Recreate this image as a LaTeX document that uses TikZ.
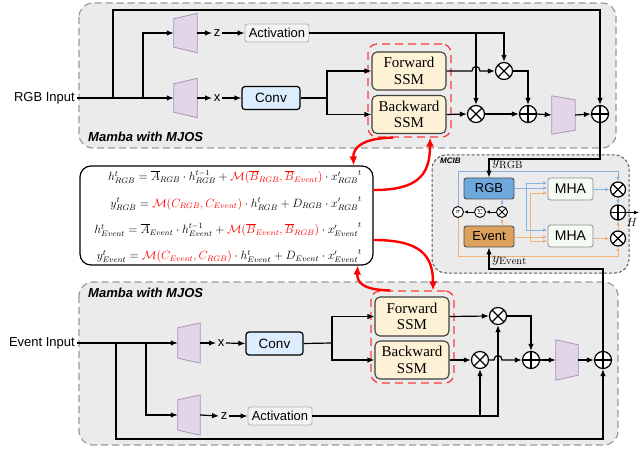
\documentclass[tikz,border=0pt]{standalone}
\usepackage{fontspec}
\setsansfont{Liberation Sans}
\newfontfamily\serifT{Liberation Serif}
\usetikzlibrary{arrows.meta,calc}
\definecolor{panelgray}{HTML}{EBEBEB}
\definecolor{panelborder}{HTML}{9A9A9A}
\definecolor{trapfill}{HTML}{E2D5E7}
\definecolor{trapdraw}{HTML}{A994B8}
\definecolor{ssmfill}{HTML}{FDF1D6}
\definecolor{convfill}{HTML}{DCEEFD}
\definecolor{actfill}{HTML}{F3F3F3}
\definecolor{actdraw}{HTML}{B5B5B5}
\definecolor{rgbfill}{HTML}{6FA8DC}
\definecolor{evfill}{HTML}{DCA15C}
\definecolor{mhafill}{HTML}{F5FAF2}
\definecolor{lblue}{HTML}{86B4E3}
\definecolor{lorange}{HTML}{EFB47A}
\definecolor{redd}{HTML}{FF3B3B}
\newcommand\redm[1]{\textcolor{red}{#1}}
\begin{document}
\begin{tikzpicture}[x=1pt,y=-1pt,
  lw/.style={line width=1.2pt},
  ln/.style={lw},
  arr/.style={lw,-{Latex[length=7pt,width=5.5pt]}},
  op/.style={circle,draw,lw,fill=white,minimum size=17pt,inner sep=0pt},
  otimes/.style={op,path picture={\draw[lw] (path picture bounding box.north west)--(path picture bounding box.south east) (path picture bounding box.north east)--(path picture bounding box.south west);}},
  oplus/.style={op,path picture={\draw[lw] (path picture bounding box.north)--(path picture bounding box.south) (path picture bounding box.east)--(path picture bounding box.west);}},
  mop/.style={circle,draw,line width=0.9pt,fill=white,minimum size=11pt,inner sep=0pt,font=\fontsize{7}{8}\selectfont},
  motimes/.style={mop,path picture={\draw[line width=0.9pt] (path picture bounding box.north west)--(path picture bounding box.south east) (path picture bounding box.north east)--(path picture bounding box.south west);}},
  bop/.style={op,minimum size=15pt},
  botimes/.style={bop,path picture={\draw[lw] (path picture bounding box.north west)--(path picture bounding box.south east) (path picture bounding box.north east)--(path picture bounding box.south west);}},
  boplus/.style={bop,path picture={\draw[lw] (path picture bounding box.north)--(path picture bounding box.south) (path picture bounding box.east)--(path picture bounding box.west);}},
  trapanchor/.style={inner sep=0pt,minimum width=23pt,minimum height=39pt},
  trapstyle/.style={fill=trapfill,draw=trapdraw,line width=0.8pt},
  panel/.style={fill=panelgray,draw=panelborder,line width=1.2pt,dash pattern=on 7pt off 4pt,rounded corners=14pt},
  mpanel/.style={fill=panelgray,draw=black!65,line width=1pt,dash pattern=on 3pt off 2pt,rounded corners=14pt},
  paneltitle/.style={font=\sffamily\bfseries\itshape\fontsize{13}{15}\selectfont,anchor=west,inner sep=0pt},
  sans/.style={font=\sffamily\fontsize{13}{15}\selectfont},
  letter/.style={font=\sffamily\fontsize{13}{15}\selectfont,inner sep=1.5pt},
  actbox/.style={sans,draw=actdraw,fill=actfill,rounded corners=2.5pt,line width=0.9pt,minimum width=64pt,minimum height=18pt,inner sep=1pt},
  convbox/.style={sans,draw=black,fill=convfill,rounded corners=3pt,lw,minimum width=58pt,minimum height=23pt,inner sep=1pt,font=\sffamily\fontsize{13.5}{15}\selectfont},
  ssmbox/.style={draw=black!75,fill=ssmfill,rounded corners=5pt,line width=1.1pt,minimum width=74pt,minimum height=38pt,inner sep=1pt,align=center,font=\serifT\fontsize{15}{16.5}\selectfont},
  reddash/.style={draw=redd,line width=1.3pt,dash pattern=on 8pt off 5pt,rounded corners=9pt,minimum width=83pt,inner sep=0pt},
  redarr/.style={draw=red,line width=2.4pt,-{Latex[length=9pt,width=8pt]}},
  mbox/.style={font=\sffamily\fontsize{13}{15}\selectfont,draw=black!70,line width=0.9pt,rounded corners=2.5pt,minimum width=50pt,minimum height=21pt,inner sep=0pt},
  mhabox/.style={font=\sffamily\fontsize{14}{16}\selectfont,draw=black!45,fill=mhafill,line width=0.8pt,rounded corners=2.5pt,minimum width=45pt,minimum height=22pt,inner sep=0pt},
  barr/.style={draw=lblue,line width=0.9pt,-{Latex[length=4.5pt,width=3.5pt]}},
  oarr/.style={draw=lorange,line width=0.9pt,-{Latex[length=4.5pt,width=3.5pt]}},
  karr/.style={draw=black,line width=0.9pt,-{Latex[length=4pt,width=3.5pt]}},
  eqbox/.style={draw=black,lw,fill=white,rounded corners=11pt,minimum width=293pt,minimum height=99pt,inner sep=0pt},
  eqtext/.style={anchor=east,inner sep=0pt,align=right,font=\fontsize{11.6}{26.3}\selectfont}
]
\useasboundingbox[fill=white] (0,0) rectangle (640,449);

% ================= panels =================
\draw[panel] (79,3) rectangle (616,148);
\draw[panel] (79,282) rectangle (618,445);
\draw[mpanel] (432,155) rectangle (629,273);
\node[paneltitle] (tT) at (88,137) {Mamba with MJOS};
\node[paneltitle] (tB) at (88,293) {Mamba with MJOS};
\node[font=\sffamily\bfseries\itshape\fontsize{8}{9}\selectfont,anchor=west,inner sep=0pt] (tM) at (440,161) {MCIB};

% ================= TOP (RGB) =================
\node[sans,anchor=east,inner sep=2pt] (rgbin) at (77,98) {RGB Input};
\node[trapanchor] (ptTz) at (185.5,33) {};
\node[trapanchor] (ptTx) at (185.5,98) {};
\draw[trapstyle] ($(ptTz.north west)+(0,5.5)$) -- (ptTz.north east) -- (ptTz.south east) -- ($(ptTz.south west)+(0,-5.5)$) -- cycle;
\draw[trapstyle] ($(ptTx.north west)+(0,5.5)$) -- (ptTx.north east) -- (ptTx.south east) -- ($(ptTx.south west)+(0,-5.5)$) -- cycle;
\node[letter] (zT) at (217,33) {z};
\node[letter] (xT) at (217,98) {x};
\node[actbox] (actT) at (277,33) {Activation};
\node[convbox] (convT) at (271,98) {Conv};
\node[ssmbox] (fwdT) at (409,71) {Forward\\SSM};
\node[ssmbox] (bwdT) at (409,114.5) {Backward\\SSM};
\node[reddash,minimum height=93pt] (redT) at (409.5,90.5) {};
\node[otimes] (mulT1) at (504,71) {};
\node[otimes] (mulT2) at (476,114) {};
\node[oplus] (addT1) at (528,114) {};
\node[trapanchor,minimum height=38pt] (ptTo) at (563.5,115) {};
\draw[trapstyle] (ptTo.north west) -- ($(ptTo.north east)+(0,4)$) -- ($(ptTo.south east)+(0,-4)$) -- (ptTo.south west) -- cycle;
\node[oplus] (addT2) at (600,114) {};

\coordinate (s1) at (113,98);
\coordinate (s2) at (143,98);
\coordinate (s1top) at (113,10);
\coordinate (forkT) at (327,98);
\coordinate (s3) at (mulT2.north |- actT.east);
\coordinate (hT) at (mulT2.north |- fwdT.east);
\coordinate (cT) at (600,159);

\draw[arr] (rgbin.east) -- (ptTx.west);
\draw[arr] (s1) -- (s1top) -| (addT2.north);
\draw[arr] (s2) |- (ptTz.west);
\draw[arr] (ptTz.east) -- (zT.west);
\draw[arr] (zT.east) -- (actT.west);
\draw[arr] (ptTx.east) -- (xT.west);
\draw[arr] (xT.east) -- (convT.west);
\draw[ln] (convT.east) -- (forkT);
\draw[arr] (forkT) |- (fwdT.west);
\draw[arr] (forkT) |- (bwdT.west);
\draw[arr] (actT.east) -| (mulT1.north);
\draw[arr] (s3) -- (mulT2.north);
\draw[arr] (fwdT.east) -- ($(hT)+(-4,0)$) .. controls ($(hT)+(-4,-6)$) and ($(hT)+(4,-6)$) .. ($(hT)+(4,0)$) -- (mulT1.west);
\draw[arr] (bwdT.east) -- (mulT2.west);
\draw[arr] (mulT2.east) -- (addT1.west);
\draw[arr] (mulT1.east) -| (addT1.north);
\draw[arr] (addT1.east) -- (ptTo.west);
\draw[arr] (ptTo.east) -- (addT2.west);

% ================= BOTTOM (Event) =================
\node[sans,anchor=east,inner sep=2pt] (evin) at (77,343) {Event Input};
\node[trapanchor,minimum width=22pt,minimum height=40pt] (ptBx) at (189,343) {};
\node[trapanchor,minimum width=22pt,minimum height=40pt] (ptBz) at (189,415) {};
\draw[trapstyle] ($(ptBx.north west)+(0,5)$) -- (ptBx.north east) -- (ptBx.south east) -- ($(ptBx.south west)+(0,-5)$) -- cycle;
\draw[trapstyle] ($(ptBz.north west)+(0,5)$) -- (ptBz.north east) -- (ptBz.south east) -- ($(ptBz.south west)+(0,-5)$) -- cycle;
\node[letter] (xB) at (221,343) {x};
\node[letter] (zB) at (224,416) {z};
\node[convbox,minimum width=57pt] (convB) at (274.5,343.5) {Conv};
\node[actbox] (actB) at (280,416) {Activation};
\node[ssmbox,minimum height=39pt] (fwdB) at (412,316.5) {Forward\\SSM};
\node[ssmbox] (bwdB) at (412,360) {Backward\\SSM};
\node[reddash,minimum height=92pt] (redB) at (412.5,337) {};
\node[otimes] (mulB1) at (498,316) {};
\node[otimes] (mulB2) at (480,360) {};
\node[oplus] (addB1) at (531,360) {};
\node[trapanchor,minimum width=22pt,minimum height=40pt] (ptBo) at (567,360) {};
\draw[trapstyle] (ptBo.north west) -- ($(ptBo.north east)+(0,5)$) -- ($(ptBo.south east)+(0,-5)$) -- (ptBo.south west) -- cycle;
\node[oplus] (addB2) at (603,360) {};

\coordinate (s4) at (116,343);
\coordinate (s5) at (146,343);
\coordinate (s4bot) at (116,439);
\coordinate (forkB) at (332,343);
\coordinate (s6) at (mulB2.south |- actB.east);
\coordinate (hB) at (mulB1.south |- bwdB.east);
\coordinate (cB) at (603,269);

\draw[arr] (evin.east) -- (ptBx.west);
\draw[arr] (s4) -- (s4bot) -| (addB2.south);
\draw[arr] (s5) |- (ptBz.west);
\draw[arr] (ptBx.east) -- (xB.west);
\draw[arr] (xB.east) -- (convB.west);
\draw[arr] (ptBz.east) -- (zB.west);
\draw[arr] (zB.east) -- (actB.west);
\draw[ln] (convB.east) -- (forkB);
\draw[arr] (forkB) |- (fwdB.west);
\draw[arr] (forkB) |- (bwdB.west);
\draw[arr] (actB.east) -| (mulB1.south);
\draw[arr] (s6) -- (mulB2.south);
\draw[arr] (fwdB.east) -- (mulB1.west);
\draw[arr] (bwdB.east) -- (mulB2.west);
\draw[arr] (mulB2.east) -- ($(hB)+(-4,0)$) .. controls ($(hB)+(-4,-6)$) and ($(hB)+(4,-6)$) .. ($(hB)+(4,0)$) -- (addB1.west);
\draw[arr] (mulB1.east) -| (addB1.north);
\draw[arr] (addB1.east) -- (ptBo.west);
\draw[arr] (ptBo.east) -- (addB2.west);

% ================= MCIB =================
\node[mbox,fill=rgbfill] (rgbM) at (489,188.5) {RGB};
\node[mbox,fill=evfill] (evM) at (489,236.5) {Event};
\node[mhabox] (mhaT) at (570.5,189) {MHA};
\node[mhabox] (mhaB) at (570.5,236) {MHA};
\node[botimes] (mulM1) at (618,189.5) {};
\node[boplus] (addM) at (618,212.5) {};
\node[botimes] (mulM2) at (618,238.5) {};
\node[mop] (sig) at (458,212) {$\sigma$};
\node[mop] (sumM) at (480,212) {$\Sigma$};
\node[motimes] (mulS) at (502,212) {};
\coordinate (Hend) at (639,212.5);
\node[inner sep=0pt,font=\fontsize{12}{13}\selectfont] (Hlab) at (632,222) {$H$};

\coordinate (bj) at (526,188);
\coordinate (bj1) at (526,183);
\coordinate (bj2) at (526,230);
\coordinate (oj) at (530,237);
\coordinate (oj1) at (530,193);
\coordinate (oj2) at (530,241);
\coordinate (sigtop) at (458,171);
\coordinate (sigbot) at (458,256);

\draw[draw=lblue,line width=0.9pt] (rgbM.east |- bj) -- (bj);
\draw[barr] (bj) -- (mhaT.west |- bj);
\draw[draw=lblue,line width=0.9pt] (bj1) -- (bj2);
\draw[barr] (bj1) -- (mhaT.west |- bj1);
\draw[barr] (bj2) -- (mhaB.west |- bj2);
\draw[oarr] (evM.east |- oj) -- (mhaB.west |- oj);
\draw[draw=lorange,line width=0.9pt] (oj1) -- (oj2);
\draw[oarr] (oj1) -- (mhaT.west |- oj1);
\draw[oarr] (oj2) -- (mhaB.west |- oj2);
\draw[barr] (mhaT.east |- mulM1) -- (mulM1.west);
\draw[oarr] (mhaB.east |- mulM2) -- (mulM2.west);
\draw[barr] (mulM1.south) -- (addM.north);
\draw[oarr] (mulM2.north) -- (addM.south);
\draw[barr] (rgbM.south -| mulS) -- (mulS.north);
\draw[oarr] (evM.north -| mulS) -- (mulS.south);
\draw[karr] (mulS.west) -- (sumM.east);
\draw[karr] (sumM.west) -- (sig.east);
\draw[barr] (sig.north) -- (sigtop) -| (mulM1.north);
\draw[oarr] (sig.south) -- (sigbot) -| (mulM2.south);
\draw[lw,-{Latex[length=5pt,width=4pt]}] (addM.east) -- (Hend);

\draw[arr] (addT2.south) -- (cT) -| (rgbM.north);
\draw[arr] (addB2.north) -- (cB) -| (evM.south);
\node[anchor=west,inner sep=0pt,font=\fontsize{15}{16}\selectfont] (yR) at (492,164) {$y_{\mathrm{RGB}}$};
\node[anchor=west,inner sep=0pt,font=\fontsize{15}{16}\selectfont] (yE) at (492,261) {$y_{\mathrm{Event}}$};

% ================= equations =================
\node[eqbox] (eqbox) at (226.5,215.5) {};
\node[eqtext] (eqs) at (362,216.5) {$h^t_{RGB} = \overline{A}_{RGB}\cdot h^{t-1}_{RGB} + \redm{\mathcal{M}(\overline{B}_{RGB},\overline{B}_{Event})}\cdot {x'_{RGB}}^{t}$\\
$y^t_{RGB} = \redm{\mathcal{M}(C_{RGB},C_{Event})}\cdot h^{t}_{RGB} + D_{RGB}\cdot {x'_{RGB}}^{t}$\\
$h^t_{Event} = \overline{A}_{Event}\cdot h^{t-1}_{Event} + \redm{\mathcal{M}(\overline{B}_{Event},\overline{B}_{RGB})}\cdot {x'_{Event}}^{t}$\\
$y^t_{Event} = \redm{\mathcal{M}(C_{Event},C_{RGB})}\cdot h^{t}_{Event} + D_{Event}\cdot {x'_{Event}}^{t}$};

% ================= red arrows =================
\coordinate (r1s) at ($(redT.south)+(-16.5,0)$);
\coordinate (r1e) at ($(eqbox.north east)+(-20,0)$);
\coordinate (r2s) at ($(eqbox.east)+(0,-25.5)$);
\coordinate (r2e) at ($(redT.south)+(20.5,0)$);
\coordinate (r3s) at ($(eqbox.east)+(0,24.5)$);
\coordinate (r3e) at ($(redB.north)+(20.5,0)$);
\coordinate (r4s) at ($(redB.north)+(-22.5,0)$);
\coordinate (r4e) at ($(eqbox.south east)+(-16,0)$);
\draw[redarr] (r1s) .. controls (362,138) and (353,148) .. (r1e);
\draw[redarr] (r2s) .. controls (418,190) and (430,175) .. (r2e);
\draw[redarr] (r3s) .. controls (420,240) and (433,255) .. (r3e);
\draw[redarr] (r4s) .. controls (362,290) and (357,282) .. (r4e);
\end{tikzpicture}
\end{document}
